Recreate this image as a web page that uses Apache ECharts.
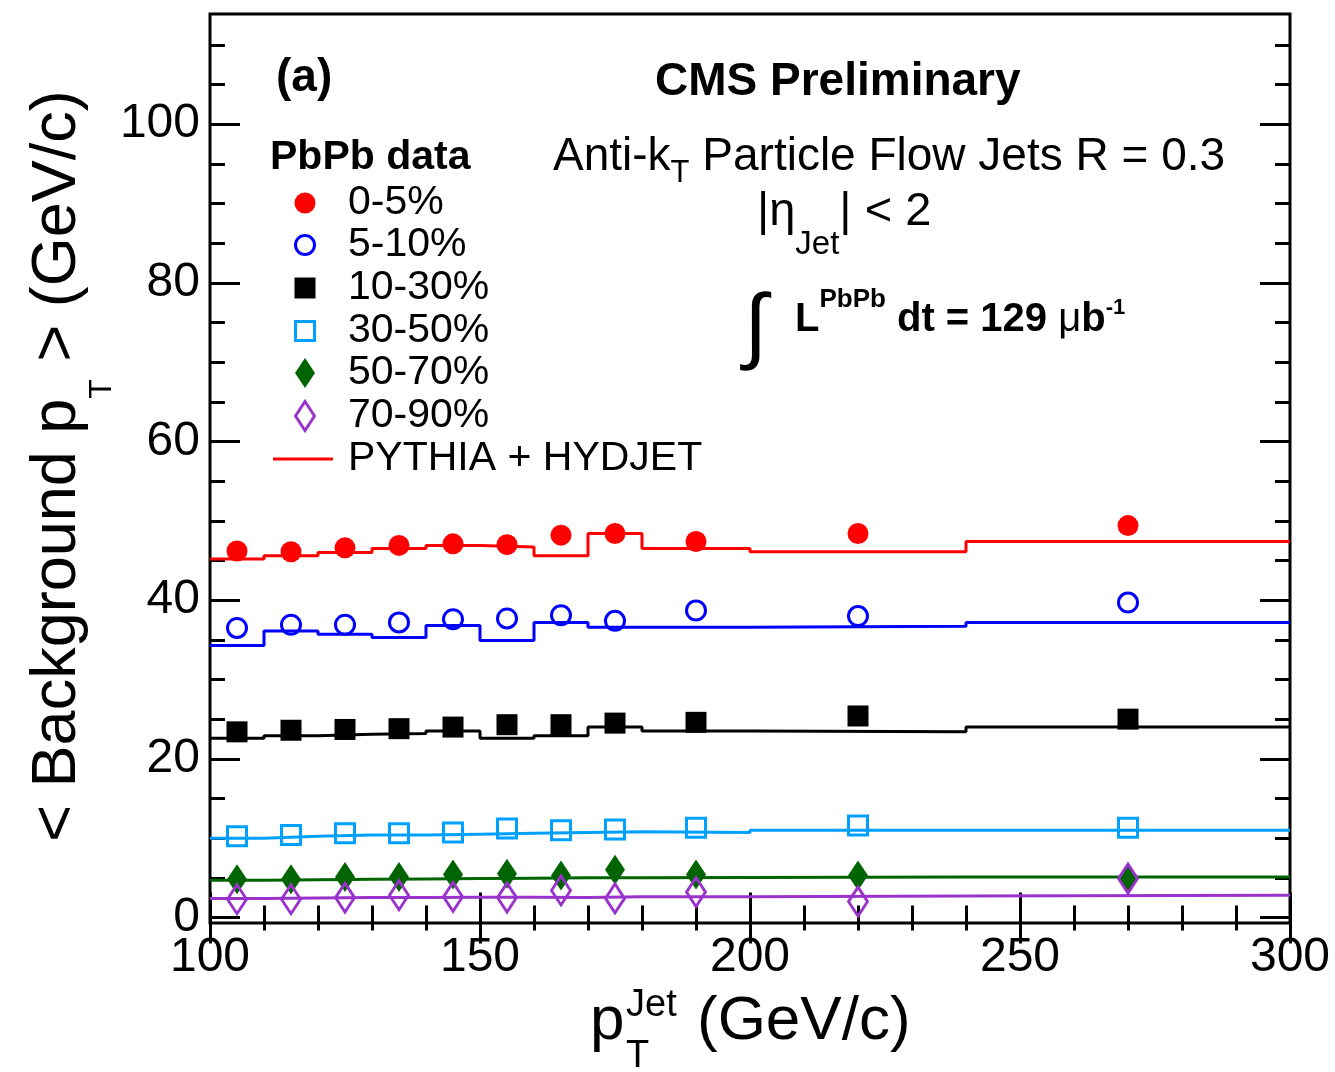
<!DOCTYPE html>
<html>
<head>
<meta charset="utf-8">
<script src="https://cdn.jsdelivr.net/npm/echarts@6/dist/echarts.min.js"></script>
<style>
  html, body { margin: 0; padding: 0; background: #fff; }
  #chart { width: 1335px; height: 1072px; }
</style>
</head>
<body>
<div id="chart"></div>
<script>
// jet pT of the data points (GeV/c)
const ptPoints = [105, 115, 125, 135, 145, 155, 165, 175, 190, 220, 270];
// bin edges of the PYTHIA + HYDJET histograms
const binEdges = [100, 110, 120, 130, 140, 150, 160, 170, 180, 200, 240, 300];

// PbPb data, <background pT> per centrality class
const data0_5   = [46.2, 46.1, 46.6, 46.9, 47.1, 47.0, 48.2, 48.4, 47.4, 48.4, 49.4];
const data5_10  = [36.5, 36.9, 36.9, 37.2, 37.6, 37.7, 38.1, 37.4, 38.7, 38.0, 39.7];
const data10_30 = [23.4, 23.6, 23.7, 23.8, 24.0, 24.3, 24.3, 24.5, 24.6, 25.4, 25.0];
const data30_50 = [10.25, 10.4, 10.6, 10.6, 10.7, 11.2, 11.0, 11.1, 11.3, 11.6, 11.3];
const data50_70 = [4.8, 4.8, 5.1, 5.1, 5.4, 5.5, 5.3, 6.0, 5.4, 5.3, 4.8];
const data70_90 = [2.3, 2.3, 2.5, 2.8, 2.6, 2.5, 3.4, 2.4, 3.2, 2.0, 4.9];

// PYTHIA + HYDJET, one value per bin
const sim0_5   = [45.2, 45.6, 46.0, 46.5, 46.9, 46.7, 45.6, 48.4, 46.5, 46.1, 47.4];
const sim5_10  = [34.3, 36.1, 35.7, 35.3, 36.8, 34.9, 37.2, 36.6, 36.6, 36.7, 37.2];
const sim10_30 = [22.6, 22.9, 23.1, 23.2, 23.5, 22.6, 22.9, 24.0, 23.5, 23.4, 24.0];
const sim30_50 = [10.0, 10.25, 10.4, 10.4, 10.5, 10.6, 10.7, 10.8, 10.7, 11.0, 11.0];
const sim50_70 = [4.7, 4.75, 4.8, 4.85, 4.9, 4.95, 5.0, 5.0, 5.05, 5.1, 5.1];
const sim70_90 = [2.4, 2.45, 2.5, 2.5, 2.55, 2.55, 2.5, 2.6, 2.6, 2.7, 2.8];

// tick labels
const xMajor = [100, 150, 200, 250, 300];
const xMinor = [110, 120, 130, 140, 160, 170, 180, 190, 210, 220, 230, 240, 260, 270, 280, 290];
const yMajor = [0, 20, 40, 60, 80, 100];
const yMinor = [5, 10, 15, 25, 30, 35, 45, 50, 55, 65, 70, 75, 85, 90, 95, 105, 110];

const legendNames = ['0-5%', '5-10%', '10-30%', '30-50%', '50-70%', '70-90%', 'PYTHIA + HYDJET'];

const FAM = '"Liberation Sans", Arial, Helvetica, sans-serif';
const RED = '#ff0000', BLUE = '#0000ff', BLACK = '#000000',
      AZURE = '#00a0ff', GREEN = '#006400', VIOLET = '#9933cc';

let chart = echarts.init(document.getElementById('chart'));

let ctx = document.createElement('canvas').getContext('2d');
let font = function(size, bold){ return (bold ? 'bold ' : '') + size + 'px ' + FAM; };
let textW = function(t, f){ ctx.font = f; return ctx.measureText(t).width; };

// lay out text pieces left to right: [text, size, bold, dy]
let seq = function(x, y, pieces){
    let els = [];
    let cx = x;
    pieces.forEach(function(p){
        let f = font(p[1], p[2]);
        els.push({
            type: 'text', x: cx, y: y + (p[3] || 0),
            style: { text: p[0], font: f, fill: '#000', align: 'left', verticalAlign: 'middle' }
        });
        cx += textW(p[0], f);
    });
    return { els: els, width: cx - x };
};

let pts = function(vals){ return ptPoints.map(function(x, i){ return [x, vals[i]]; }); };
let hist = function(vals){
    let d = vals.map(function(v, i){ return [binEdges[i], v]; });
    d.push([binEdges[binEdges.length - 1], vals[vals.length - 1]]);
    return d;
};

let histSeries = function(vals, color){
    return { type: 'line', step: 'end', data: hist(vals), symbol: 'none', z: 2,
             lineStyle: { color: color, width: 3 }, silent: true };
};
let pointSeries = function(name, vals, symbol, size, color, hollow){
    return {
        name: name, type: 'scatter', data: pts(vals), symbol: symbol, symbolSize: size, z: 3,
        itemStyle: hollow ? { color: 'rgba(0,0,0,0)', borderColor: color, borderWidth: 3, opacity: 1 }
                          : { color: color, opacity: 1 },
        silent: true
    };
};

let tickAxis = function(kind, pos, vals, len, labels){
    let ax = {
        type: 'value', position: pos,
        min: kind === 'x' ? 100 : -0.7,
        max: kind === 'x' ? 300 : 113.9,
        axisLine: { show: false },
        splitLine: { show: false },
        axisTick: { show: true, inside: true, length: len, customValues: vals,
                    lineStyle: { color: '#000', width: 3 } },
        axisLabel: { show: false }
    };
    if (labels) {
        ax.axisLabel = { show: true, customValues: vals, color: '#000',
                         fontFamily: FAM, fontSize: 48, margin: kind === 'x' ? 11 : 10 };
    }
    return ax;
};

let graphics = [];
let add = function(r){ graphics = graphics.concat(r.els); };

// y axis title, rotated
let yt = seq(0, 0, [['< Background p', 63], ['T', 32, false, 44], [' > (GeV/c)', 63]]);
yt.els.forEach(function(e){ e.x -= yt.width / 2; });
graphics.push({ type: 'group', x: 58, y: 466, rotation: Math.PI / 2, children: yt.els });

// x axis title
graphics.push({ type: 'text', x: 590, y: 1022, style: { text: 'p', font: font(62), fill: '#000', verticalAlign: 'middle' } });
graphics.push({ type: 'text', x: 626, y: 1006, style: { text: 'Jet', font: font(38), fill: '#000', verticalAlign: 'middle' } });
graphics.push({ type: 'text', x: 626, y: 1057, style: { text: 'T', font: font(38), fill: '#000', verticalAlign: 'middle' } });
graphics.push({ type: 'text', x: 697, y: 1022, style: { text: '(GeV/c)', font: font(62), fill: '#000', verticalAlign: 'middle' } });

// annotations
add(seq(276, 78, [['(a)', 46, true]]));
add(seq(655, 82, [['CMS Preliminary', 46, true]]));
add(seq(553, 157, [['Anti-k', 46], ['T', 31, false, 16], [' Particle Flow Jets R = 0.3', 46]]));
add(seq(757, 212, [['|\u03b7', 47], ['Jet', 33, false, 33], ['| < 2', 47]]));
graphics.push({ type: 'text', x: 744, y: 330, style: { text: '\u222b', font: font(84), fill: '#000', verticalAlign: 'middle' } });
add(seq(795, 320, [['L', 40, true], ['PbPb', 26, true, -20], [' dt = 129 ', 40, true],
                   ['\u03bc', 40, false], ['b', 40, true], ['-1', 22, true, -12]]));

// legend
add(seq(270, 158, [['PbPb data', 41, true]]));
let legY = [203, 245, 288, 331, 373, 416, 459];
let lx = 305;
graphics.push({ type: 'circle', shape: { cx: lx, cy: legY[0], r: 10.5 }, style: { fill: RED } });
graphics.push({ type: 'circle', shape: { cx: lx, cy: legY[1], r: 9.5 }, style: { fill: 'none', stroke: BLUE, lineWidth: 3 } });
graphics.push({ type: 'rect', shape: { x: lx - 10.5, y: legY[2] - 10.5, width: 21, height: 21 }, style: { fill: BLACK } });
graphics.push({ type: 'rect', shape: { x: lx - 9.5, y: legY[3] - 9.5, width: 19, height: 19 }, style: { fill: 'none', stroke: AZURE, lineWidth: 3 } });
graphics.push({ type: 'polygon', shape: { points: [[lx, legY[4] - 15], [lx + 10, legY[4]], [lx, legY[4] + 15], [lx - 10, legY[4]]] }, style: { fill: GREEN } });
graphics.push({ type: 'polygon', shape: { points: [[lx, legY[5] - 14.5], [lx + 9.5, legY[5]], [lx, legY[5] + 14.5], [lx - 9.5, legY[5]]] }, style: { fill: 'none', stroke: VIOLET, lineWidth: 3 } });
graphics.push({ type: 'line', shape: { x1: 273, y1: legY[6], x2: 333, y2: legY[6] }, style: { stroke: RED, lineWidth: 3 } });
legendNames.forEach(function(n, i){ add(seq(348, legY[i], [[n, 41]])); });

let option = {
    backgroundColor: '#fff',
    animation: false,
    grid: { left: 210, top: 14, width: 1080, height: 909, show: true,
            borderColor: '#000', borderWidth: 3, backgroundColor: 'rgba(0,0,0,0)' },
    xAxis: [
        tickAxis('x', 'bottom', xMajor, 25, true),
        tickAxis('x', 'bottom', xMinor, 12, false),
        tickAxis('x', 'top', xMajor, 26, false),
        tickAxis('x', 'top', xMinor, 13, false)
    ],
    yAxis: [
        tickAxis('y', 'left', yMajor, 30, true),
        tickAxis('y', 'left', yMinor, 15, false),
        tickAxis('y', 'right', yMajor, 30, false),
        tickAxis('y', 'right', yMinor, 15, false)
    ],
    series: [
        histSeries(sim0_5, RED),
        histSeries(sim5_10, BLUE),
        histSeries(sim10_30, BLACK),
        histSeries(sim30_50, AZURE),
        histSeries(sim50_70, GREEN),
        histSeries(sim70_90, VIOLET),
        pointSeries(legendNames[0], data0_5, 'circle', 21, RED, false),
        pointSeries(legendNames[1], data5_10, 'circle', 19, BLUE, true),
        pointSeries(legendNames[2], data10_30, 'rect', 21, BLACK, false),
        pointSeries(legendNames[3], data30_50, 'rect', 19, AZURE, true),
        pointSeries(legendNames[4], data50_70, 'diamond', [20, 30], GREEN, false),
        pointSeries(legendNames[5], data70_90, 'diamond', [19, 29], VIOLET, true)
    ],
    graphic: graphics
};

chart.setOption(option);
</script>
</body>
</html>
